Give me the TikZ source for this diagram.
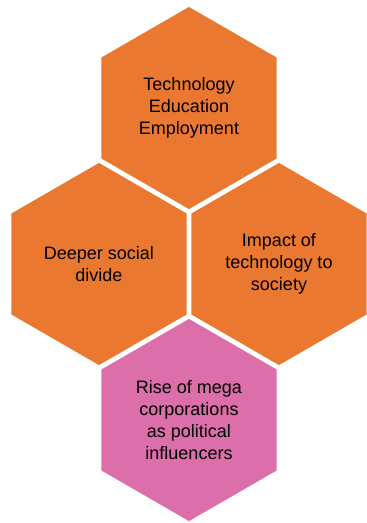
\documentclass[tikz,border=0pt]{standalone}
\usepackage{fontspec}
\setmainfont{Liberation Sans}
\usetikzlibrary{shapes.geometric}
\definecolor{hexorange}{HTML}{EB7830}
\definecolor{hexpink}{HTML}{DC6EAA}
\tikzset{
  hexcell/.style={regular polygon, regular polygon sides=6, shape border rotate=90,
    minimum size=205pt, inner sep=0pt, draw=white, line width=2.2pt,
    align=center, font=\fontsize{18pt}{22pt}\selectfont, text=black}
}
\begin{document}
\begin{tikzpicture}[x=1pt,y=1pt]
\useasboundingbox (0,0) rectangle (367,-523);
\node[hexcell, fill=hexorange] (top) at (189,-108) {Technology\\Education\\Employment};
\node[hexcell, fill=hexorange] (left) at (99,-264) {Deeper social\\divide};
\node[hexcell, fill=hexorange] (right) at (279,-264) {Impact of\\technology to\\society};
\node[hexcell, fill=hexpink] (bottom) at (189,-420) {Rise of mega\\corporations\\as political\\influencers};
\end{tikzpicture}
\end{document}
